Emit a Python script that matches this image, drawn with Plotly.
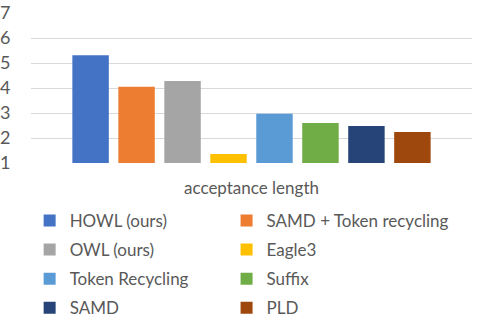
import plotly.graph_objects as go

category = ["acceptance length"]
series_names = ["HOWL (ours)", "SAMD + Token recycling", "OWL (ours)", "Eagle3",
                "Token Recycling", "Suffix", "SAMD", "PLD"]
series_values = [5.31, 4.05, 4.28, 1.36, 2.97, 2.60, 2.48, 2.24]
series_colors = ["#4472C4", "#ED7D31", "#A5A5A5", "#FFC000",
                 "#5B9BD5", "#70AD47", "#264478", "#9E480E"]
y_ticks = [1, 2, 3, 4, 5, 6, 7]

FONT = "Lato"
GRAY = "#595959"

fig = go.Figure()
for i, (name, val, col) in enumerate(zip(series_names, series_values, series_colors)):
    fig.add_trace(go.Bar(x=category, y=[val], name=name,
                         legend="legend" if i % 2 == 0 else "legend2",
                         legendgroup=f"g{i}",
                         marker=dict(color=col, line=dict(width=0))))

leg_common = dict(orientation="v", xref="container", yref="container",
                  xanchor="left", yanchor="top", tracegroupgap=4,
                  font=dict(family=FONT, size=17, color=GRAY),
                  bgcolor="rgba(0,0,0,0)")

fig.update_layout(
    width=478, height=319,
    margin=dict(l=31, r=6, t=13, b=156, autoexpand=False),
    paper_bgcolor="white", plot_bgcolor="white",
    barmode="group", bargap=0.166, bargroupgap=0.207,
    font=dict(family=FONT, size=17, color=GRAY),
    showlegend=True,
    legend=dict(x=0.062, y=0.364, **leg_common),
    legend2=dict(x=0.474, y=0.364, **leg_common),
)
fig.update_yaxes(range=[1, 7], tickvals=y_ticks, showgrid=True, automargin=False,
                 gridcolor="#D9D9D9", gridwidth=1, zeroline=False,
                 showline=False, ticks="outside", ticklen=16,
                 tickcolor="rgba(0,0,0,0)", tickfont=dict(size=18, color=GRAY))
fig.update_xaxes(showline=False, ticks="outside", ticklen=10, automargin=False,
                 tickcolor="rgba(0,0,0,0)", tickfont=dict(size=17, color=GRAY))

fig.write_html("out.html", config={"displayModeBar": False},
               post_script="document.body.style.margin='0';document.body.style.overflow='hidden';")
